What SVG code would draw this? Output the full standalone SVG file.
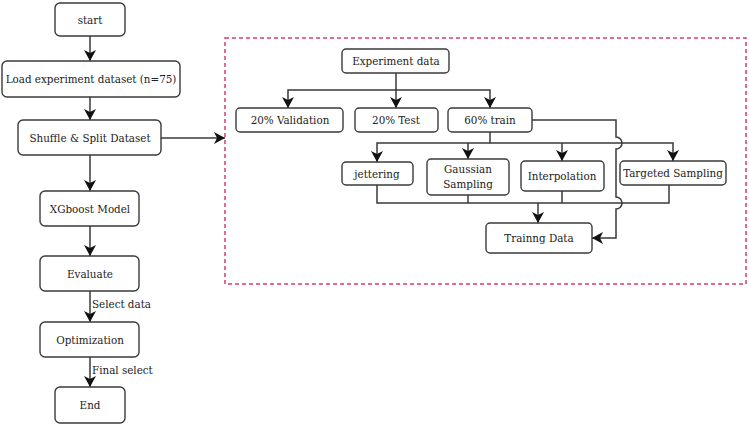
<svg xmlns="http://www.w3.org/2000/svg" width="749" height="426" viewBox="0 0 749 426">
<style>
.n rect{fill:#fff;stroke:#3a3a3a;stroke-width:1.4}
text{font-family:'DejaVu Serif Condensed','DejaVu Serif',serif;font-stretch:condensed;font-size:11.5px;fill:#222;text-anchor:middle}
.c path,.c line{fill:none;stroke:#3a3a3a;stroke-width:1.5}
.lbl{text-anchor:start}
</style>
<defs>
<marker id="a" markerUnits="userSpaceOnUse" markerWidth="12" markerHeight="12" refX="11" refY="6" orient="auto">
<path d="M0,0 L11,6 L0,12 L3,6 z" fill="#111"/>
</marker>
</defs>
<rect x="225" y="38" width="521" height="246" fill="none" stroke="#d63c6e" stroke-width="1.5" stroke-dasharray="4,3"/>
<g class="c">
<line x1="90" y1="36" x2="90" y2="61" marker-end="url(#a)"/>
<line x1="90" y1="97" x2="90" y2="120" marker-end="url(#a)"/>
<line x1="90" y1="155" x2="90" y2="191" marker-end="url(#a)"/>
<line x1="90" y1="226" x2="90" y2="256" marker-end="url(#a)"/>
<line x1="90" y1="291" x2="90" y2="322" marker-end="url(#a)"/>
<line x1="90" y1="357" x2="90" y2="387" marker-end="url(#a)"/>
<line x1="161" y1="138" x2="225" y2="138" marker-end="url(#a)"/>
<line x1="396" y1="73" x2="396" y2="108" marker-end="url(#a)"/>
<path d="M396,90 H288 V108" marker-end="url(#a)"/>
<path d="M396,90 H490 V108" marker-end="url(#a)"/>
<line x1="490" y1="132" x2="490" y2="143"/>
<path d="M490,143 H377 V162" marker-end="url(#a)"/>
<line x1="468" y1="143" x2="468" y2="159" marker-end="url(#a)"/>
<line x1="562" y1="143" x2="562" y2="161" marker-end="url(#a)"/>
<path d="M490,143 H673 V161" marker-end="url(#a)"/>
<path d="M377,185 V203 H669 V185"/>
<line x1="468" y1="195" x2="468" y2="203"/>
<line x1="562" y1="191" x2="562" y2="203"/>
<line x1="538" y1="203" x2="538" y2="223" marker-end="url(#a)"/>
<path d="M532,120 H616 V137 a6,6 0 0 1 0,12 V197 a6,6 0 0 1 0,12 V238 H592" marker-end="url(#a)"/>
</g>
<g id="start" class="n"><rect x="55" y="3" width="70" height="33" rx="5"/><text x="90" y="24">start</text></g>
<g id="load" class="n"><rect x="2" y="61" width="178" height="36" rx="5"/><text x="91" y="83">Load experiment dataset (n=75)</text></g>
<g id="shuffle" class="n"><rect x="18" y="120" width="143" height="35" rx="5"/><text x="90" y="142">Shuffle &amp; Split Dataset</text></g>
<g id="xgboost" class="n"><rect x="40" y="191" width="99" height="35" rx="5"/><text x="90" y="213">XGboost Model</text></g>
<g id="evaluate" class="n"><rect x="40" y="256" width="99" height="35" rx="5"/><text x="90" y="278">Evaluate</text></g>
<g id="optimization" class="n"><rect x="40" y="322" width="99" height="35" rx="5"/><text x="90" y="344">Optimization</text></g>
<g id="end" class="n"><rect x="55" y="387" width="70" height="36" rx="5"/><text x="90" y="409">End</text></g>
<text class="lbl" x="92" y="308">Select data</text>
<text class="lbl" x="92" y="374">Final select</text>
<g id="expdata" class="n"><rect x="342" y="49" width="107" height="24" rx="4"/><text x="396" y="65">Experiment data</text></g>
<g id="validation" class="n"><rect x="236" y="108" width="107" height="24" rx="4"/><text x="290" y="124">20% Validation</text></g>
<g id="test" class="n"><rect x="355" y="108" width="83" height="24" rx="4"/><text x="396" y="124">20% Test</text></g>
<g id="train" class="n"><rect x="448" y="108" width="84" height="24" rx="4"/><text x="490" y="124">60% train</text></g>
<g id="jittering" class="n"><rect x="342" y="162" width="71" height="23" rx="4"/><text x="377" y="178">jettering</text></g>
<g id="gaussian" class="n"><rect x="427" y="159" width="82" height="36" rx="4"/><text x="468" y="173">Gaussian</text><text x="468" y="188">Sampling</text></g>
<g id="interpolation" class="n"><rect x="521" y="161" width="83" height="30" rx="4"/><text x="562" y="180">Interpolation</text></g>
<g id="targeted" class="n"><rect x="620" y="161" width="106" height="24" rx="4"/><text x="673" y="177">Targeted Sampling</text></g>
<g id="trainingdata" class="n"><rect x="486" y="223" width="106" height="30" rx="4"/><text x="539" y="242">Trainng Data</text></g>
</svg>
